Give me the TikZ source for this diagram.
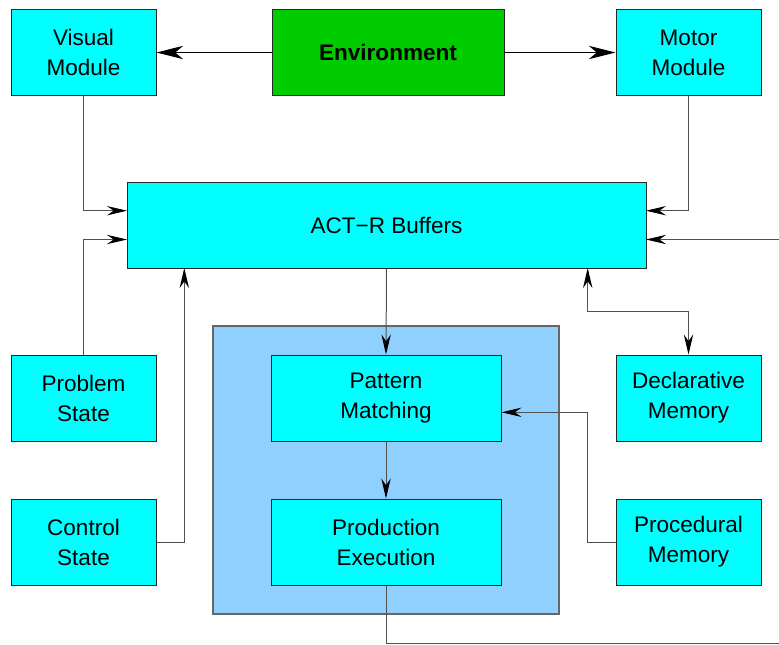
\documentclass[tikz,border=0pt]{standalone}
\usepackage{fontspec}
\setmainfont{Liberation Sans}
\usetikzlibrary{arrows.meta}
\definecolor{boxcyan}{HTML}{00FFFF}
\definecolor{envgreen}{HTML}{00CC00}
\definecolor{bgblue}{HTML}{90D0FF}
\definecolor{linegray}{HTML}{505050}
\tikzset{
  tipsmall/.tip={Stealth[length=15pt,width=7pt,inset=5pt,color=black]},
  tipbig/.tip={Stealth[length=20pt,width=10pt,inset=6pt,color=black]},
  modbox/.style={draw=black!85, fill=boxcyan, line width=0.75pt, minimum width=108.75pt,
    minimum height=64.5pt, inner sep=0pt, align=center, font=\fontsize{16.9}{22.5}\selectfont},
  conn/.style={draw=linegray, line width=0.75pt},
  envconn/.style={draw=black, line width=0.9pt, -tipbig},
}
\begin{document}
\begin{tikzpicture}[x=0.75pt,y=-0.75pt]
\useasboundingbox (0,0) rectangle (779,644);
% background processing box
\node[draw=black!60, fill=bgblue, line width=1pt, minimum width=259.5pt, minimum height=216pt, inner sep=0pt] (core) at (386,470) {};
% nodes
\node[modbox] (visual) at (83.5,52.5) {Visual\\Module};
\node[modbox, fill=envgreen, minimum width=174pt, font=\fontsize{16.9}{22.5}\selectfont\bfseries] (env) at (388,52.5) {Environment};
\node[modbox] (motor) at (688.5,52.5) {Motor\\Module};
\node[modbox, minimum width=389.25pt] (buffers) at (386.5,225) {ACT−R Buffers};
\node[modbox] (problem) at (83.5,398) {Problem\\State};
\node[modbox] (control) at (83.5,542) {Control\\State};
\node[modbox, minimum width=172.5pt] (pattern) at (386,398) {Pattern\\Matching};
\node[modbox, minimum width=172.5pt] (production) at (386,542) {Production\\Execution};
\node[modbox] (declarative) at (688.5,398) {Declarative\\Memory};
\node[modbox] (procedural) at (688.5,542) {Procedural\\Memory};
% helper coordinates
\coordinate (bufVis) at (127,210.7);
\coordinate (bufProb) at (127,239.5);
\coordinate (bufMot) at (646,210.7);
\coordinate (bufRight) at (646,239.5);
\coordinate (rightIn) at (779,239.5);
\coordinate (bufCtl) at (184.3,268);
\coordinate (bufDecl) at (587.7,268);
\coordinate (declTurn) at (587.7,311.7);
\coordinate (patIn) at (501.5,412.3);
\coordinate (procTurn) at (587.5,542);
\coordinate (botTurn) at (386,643);
\coordinate (botEnd) at (779,643);
% connectors
\draw[envconn] (env.west) -- (visual.east);
\draw[envconn] (env.east) -- (motor.west);
\draw[conn,-tipsmall] (visual.south) |- (bufVis);
\draw[conn,-tipsmall] (problem.north) |- (bufProb);
\draw[conn,-tipsmall] (motor.south) |- (bufMot);
\draw[conn,-tipsmall] (rightIn) -- (bufRight);
\draw[conn,-tipsmall] (control.east) -| (bufCtl);
\draw[conn,tipsmall-tipsmall] (bufDecl) -- (declTurn) -| (declarative.north);
\draw[conn,-tipsmall] (buffers.south) -- (pattern.north);
\draw[conn,-tipsmall] (pattern.south) -- (production.north);
\draw[conn,-tipsmall] (procedural.west) -- (procTurn) |- (patIn);
\draw[conn] (production.south) -- (botTurn) -- (botEnd);
\end{tikzpicture}
\end{document}
